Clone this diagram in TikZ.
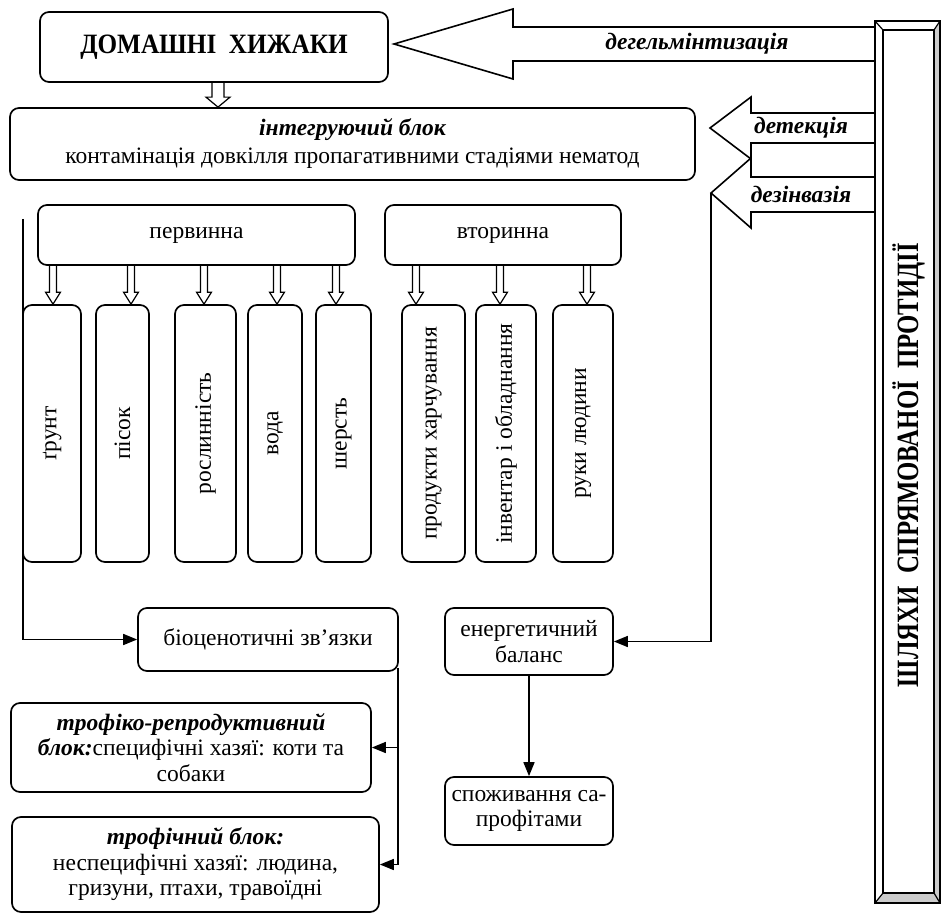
\documentclass[tikz,border=0pt]{standalone}
\usepackage{fontspec}
\usepackage{graphicx}
\setmainfont{Liberation Serif}
\usetikzlibrary{calc,arrows.meta}
\newcommand\hollowdown[6]{%
  \coordinate (hx) at (#1,0);
  \draw[hollow] ($(hx |- #2)+(-#4,0)$) -- ($(hx |- #3)+(-#4,-#6)$) -- ($(hx |- #3)+(-#5,-#6)$) -- (hx |- #3) -- ($(hx |- #3)+(#5,-#6)$) -- ($(hx |- #3)+(#4,-#6)$) -- ($(hx |- #2)+(#4,0)$);}
\begin{document}
\begin{tikzpicture}[x=1pt,y=-1pt,
  every node/.style={font=\fontsize{23.5}{25.5}\selectfont},
  box/.style={draw, line width=1.7pt, rounded corners=9pt, inner sep=2pt, align=center},
  hollow/.style={draw, line width=1.2pt, line join=miter},
  bigarrow/.style={draw, line width=1.6pt, fill=white, line join=miter},
  conn/.style={line width=1.6pt, -{Triangle[length=14pt,width=11pt]}},
  lbl/.style={font=\fontsize{23.5}{25}\selectfont\bfseries\itshape}]
\useasboundingbox (0,0) rectangle (941,917);

% main boxes
\node[box, minimum width=348, minimum height=70] (dom) at (214,47)
  {\scalebox{0.9}[1]{\fontsize{28}{30}\selectfont\bfseries ДОМАШНІ\ \ ХИЖАКИ}};
\node[box, minimum width=685, minimum height=72, font=\fontsize{23.5}{28}\selectfont] (integr) at (352.5,144)
  {{\bfseries\itshape інтегруючий блок}\\контамінація довкілля пропагативними стадіями нематод};
\node[box, minimum width=317, minimum height=60] (perv) at (196.5,235) {первинна};
\node[box, minimum width=236, minimum height=60] (vtor) at (503,235) {вторинна};

% vertical boxes
\node[box, rotate=90, minimum width=257, minimum height=58] (grunt) at (52,433.5) {ґрунт};
\node[box, rotate=90, minimum width=257, minimum height=53] (pisok) at (122.5,433.5) {пісок};
\node[box, rotate=90, minimum width=257, minimum height=61] (rosl) at (205.5,433.5) {рослинність};
\node[box, rotate=90, minimum width=257, minimum height=54] (voda) at (275,433.5) {вода};
\node[box, rotate=90, minimum width=257, minimum height=55] (sher) at (343.5,433.5) {шерсть};
\node[box, rotate=90, minimum width=257, minimum height=63] (prod) at (433.5,433.5) {продукти харчування};
\node[box, rotate=90, minimum width=257, minimum height=60] (inv) at (506,433.5) {інвентар і обладнання};
\node[box, rotate=90, minimum width=257, minimum height=60] (ruky) at (583,433.5) {руки людини};

% lower boxes
\node[box, minimum width=260, minimum height=63] (bio) at (268,639.5) {біоценотичні зв’язки};
\node[box, minimum width=168, minimum height=67] (energy) at (529,641.5) {енергетичний\\баланс};
\node[box, minimum width=168, minimum height=68] (spozh) at (529,811) {споживання са-\\профітами};
\node[box, minimum width=360, minimum height=89] (trofA) at (191,747.5)
  {{\bfseries\itshape трофіко-репродуктивний}\\{\bfseries\itshape блок:}специфічні хазяї: коти та\\собаки};
\node[box, minimum width=367, minimum height=95] (trofB) at (195.5,864.5)
  {{\bfseries\itshape трофічний блок:}\\неспецифічні хазяї: людина,\\гризуни, птахи, травоїдні};

% hollow arrows
\hollowdown{218}{dom.south}{integr.north}{6}{12}{10}
\hollowdown{53}{perv.south}{grunt.east}{3.5}{7.5}{12}
\hollowdown{131}{perv.south}{pisok.east}{3.5}{7.5}{12}
\hollowdown{204}{perv.south}{rosl.east}{3.5}{7.5}{12}
\hollowdown{277}{perv.south}{voda.east}{3.5}{7.5}{12}
\hollowdown{336}{perv.south}{sher.east}{3.5}{7.5}{12}
\hollowdown{416}{vtor.south}{prod.east}{3.5}{7.5}{12}
\hollowdown{500}{vtor.south}{inv.east}{3.5}{7.5}{12}
\hollowdown{587}{vtor.south}{ruky.east}{3.5}{7.5}{12}

% big block arrows from the right panel
\draw[bigarrow] (394,44) -- (513,9) -- (513,27) -- (875,27) -- (875,61) -- (513,61) -- (513,79) -- cycle;
\draw[bigarrow] (710,128) -- (751,97) -- (751,113) -- (875,113) -- (875,143) -- (751,143) -- (751,159) -- cycle;
\draw[bigarrow] (711,193) -- (751,158) -- (751,177) -- (875,177) -- (875,212) -- (751,212) -- (751,228) -- cycle;
\node[lbl] (lbdeg) at (697,44) {дегельмінтизація};
\node[lbl] (lbdet) at (801,128) {детекція};
\node[lbl] (lbdez) at (801,194) {дезінвазія};

% connectors
\coordinate (lstart) at (23,219);
\draw[conn] (lstart) |- (bio.west);
\coordinate (bR) at ($(bio.south east)+(-1,-4)$);
\draw[conn] (bR) |- (trofA.east);
\draw[conn] (bR) |- (trofB.east);
\coordinate (dz) at (711,193);
\draw[conn] (dz) |- (energy.east);
\draw[conn] (energy.south) -- (spozh.north);

% right panel
\fill[gray!40] (940,21) -- (934,30) -- (934,893) -- (883,893) -- (875,903) -- (940,903) -- cycle;
\draw[line width=1.5pt] (875,21) rectangle (940,903);
\draw[line width=1.5pt] (883,30) rectangle (934,893);
\draw[line width=1.2pt] (875,21) -- (883,30) (940,21) -- (934,30) (875,903) -- (883,893) (940,903) -- (934,893);
\node[rotate=90] (ptext) at (908.5,465)
  {\scalebox{0.8}[1]{\fontsize{31}{32}\selectfont\bfseries ШЛЯХИ\ \ СПРЯМОВАНОЇ\ \ ПРОТИДІЇ}};
\end{tikzpicture}
\end{document}
